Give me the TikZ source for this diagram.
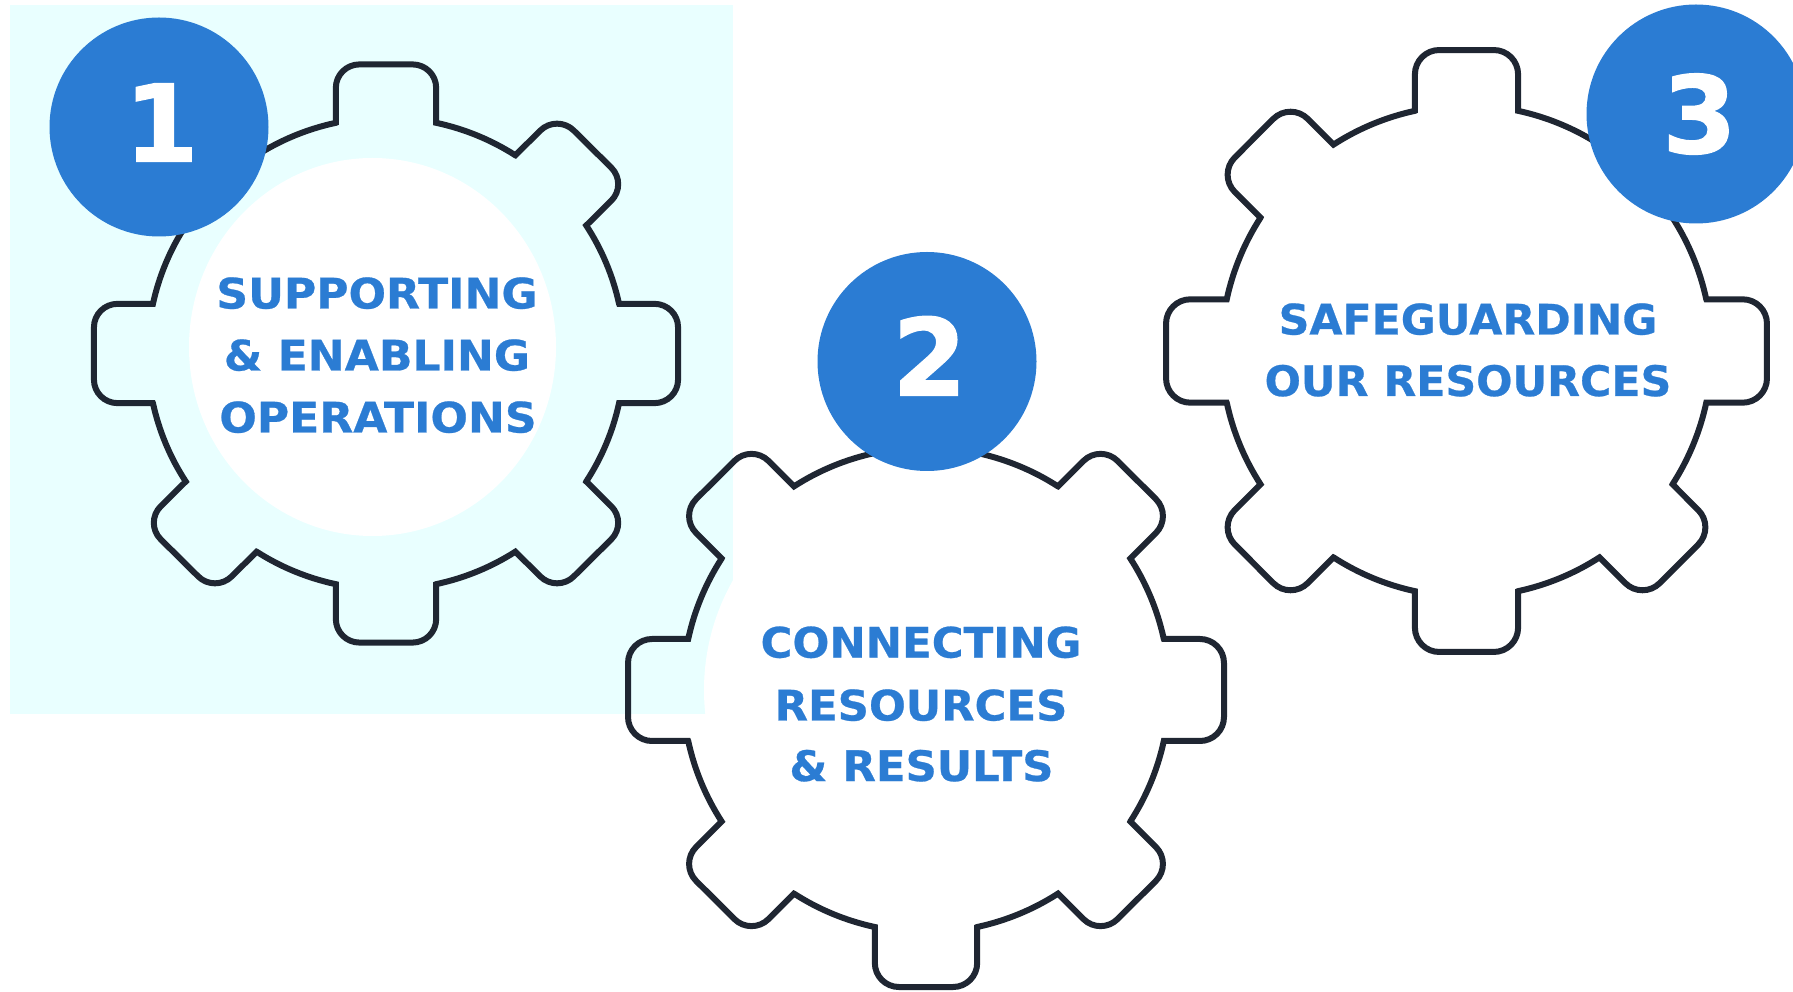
\documentclass[tikz,border=0pt]{standalone}
\usepackage{fontspec}
\setmainfont{DejaVu Sans}
\newfontfamily\labelfont[FakeStretch=1.05,FakeBold=0.6]{DejaVu Sans Bold}
\newfontfamily\labelfontb[FakeStretch=1.034,FakeBold=0.6]{DejaVu Sans Bold}
\newfontfamily\labelfontc[FakeStretch=1.017,FakeBold=0.6]{DejaVu Sans Bold}
\newfontfamily\digitfont[FakeBold=1.2]{DejaVu Sans Bold}
\definecolor{bluemain}{HTML}{2B7CD3}
\definecolor{pale}{HTML}{E9FFFF}
\definecolor{gearline}{HTML}{1F2632}
\newcommand{\gtooth}[1]{%
  -- ([rotate=#1]-.17,.79) -- ([rotate=#1]-.17,.91)
  arc[start angle={180+(#1)}, end angle={90+(#1)}, radius=.08]
  -- ([rotate=#1].09,.99)
  arc[start angle={90+(#1)}, end angle={(#1)}, radius=.08]
  -- ([rotate=#1].17,.79)
  arc[start angle={77.85+(#1)}, end angle={57.15+(#1)}, radius=.808]
}
\newcommand{\gearshape}[4]{%
  \begin{scope}[x=1pt,y=1pt,shift={(#1,{991-#2})},xscale=#3,yscale=#4]
    \draw[gearstroke] ([rotate=0]-.17,.79) \gtooth{0}\gtooth{-45}\gtooth{-90}\gtooth{-135}\gtooth{-180}\gtooth{-225}\gtooth{-270}\gtooth{-315} -- cycle;
  \end{scope}%
}
\tikzset{
  gearstroke/.style={draw=gearline,line width=6pt,line join=miter},
  badge/.style={circle,fill=bluemain,minimum size=219pt,inner sep=0pt},
  digit/.style={text=white,font=\fontsize{107}{107}\selectfont\digitfont,inner sep=0pt,anchor=base},
  geartext/.style={text=bluemain,font=\fontsize{42}{61.7}\selectfont\labelfont,inner sep=0pt,align=center,anchor=base},
  geartextb/.style={geartext,font=\fontsize{42}{61.7}\selectfont\labelfontb},
  geartextc/.style={geartext,font=\fontsize{42}{61.7}\selectfont\labelfontc},
}
\begin{document}
\begin{tikzpicture}[x=1pt,y=1pt]
\useasboundingbox (0,0) rectangle (1793,991);
\clip (0,0) rectangle (1793,991);
\fill[pale] (10,{991-4.6}) rectangle (733,{991-714});
\fill[white] (372.5,{991-347}) ellipse [x radius=183.5,y radius=189];
\fill[white] (926,{991-690}) circle [radius=222];
\gearshape{386}{353.5}{295}{292}
\gearshape{926}{690}{301}{300}
\gearshape{1466.5}{351}{303.5}{304}
\node[badge] (badge1) at (159,{991-127}) {};
\node[badge] (badge2) at (927,{991-361.5}) {};
\node[badge] (badge3) at (1696,{991-114}) {};
\node[digit] (digit1) at (161.5,{991-161.6}) {1};
\node[digit] (digit2) at (929.5,{991-395.6}) {2};
\node[digit] (digit3) at (1699.5,{991-153}) {3};
\node[geartext] (text1a) at (377,{991-308.5}) {SUPPORTING};
\node[geartext] (text1b) at (377,{991-370.5}) {\&\ ENABLING};
\node[geartext] (text1c) at (378,{991-432.5}) {OPERATIONS};
\node[geartextb] (text2a) at (921,{991-657.6}) {CONNECTING};
\node[geartextb] (text2b) at (921,{991-720.5}) {RESOURCES};
\node[geartextb] (text2c) at (921.5,{991-781}) {\&\ RESULTS};
\node[geartextc] (text3a) at (1468,{991-334.5}) {SAFEGUARDING};
\node[geartextc] (text3b) at (1468,{991-396}) {OUR RESOURCES};
\end{tikzpicture}
\end{document}
